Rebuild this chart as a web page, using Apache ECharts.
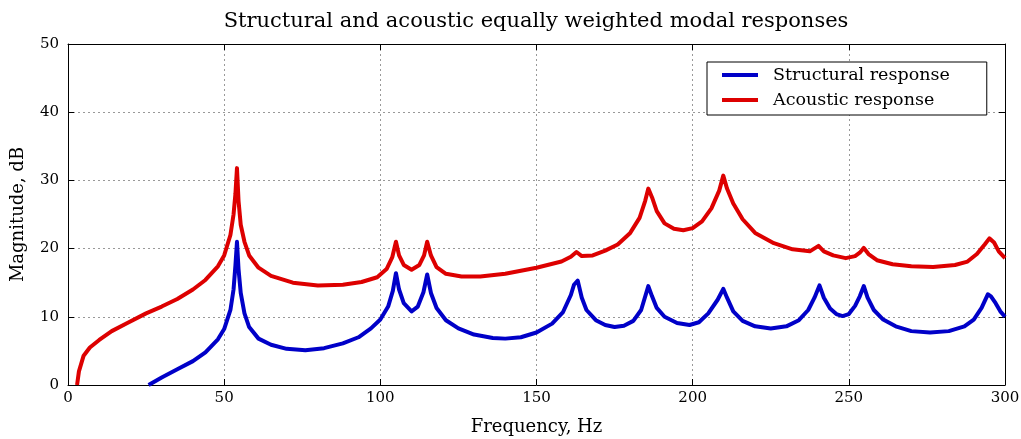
<!DOCTYPE html>
<html>
<head>
<meta charset="utf-8">
<script src="https://cdn.jsdelivr.net/npm/echarts@6/dist/echarts.min.js"></script>
<style>html,body{margin:0;padding:0;background:#fff}#c{width:1021px;height:439px}</style>
</head>
<body>
<div id="c"></div>
<script>
const titleText = 'Structural and acoustic equally weighted modal responses';
const xName = 'Frequency, Hz';
const yName = 'Magnitude, dB';
const seriesNames = ['Structural response', 'Acoustic response'];

const structFreq = [25.8,30,35,40,44,48,50,52,53,53.6,54.1,54.6,55.3,56.5,58,61,65,70,76,82,88,93,97,100,102.5,104,105,106,107.5,110,112,113.8,115,116.2,118,121,125,130,136,140,145,150,155,158.5,161,162,162.5,163.2,164.5,166,169,172,175,178,181,183.5,185.8,187,188.5,191,195,199,202,205,208,209.8,211,213,216,220,225,230,234,237,239,240.6,242,244,246,248,250,252,253.5,254.8,256,258,261,265,270,276,282,287,290,292.5,294.5,295.5,297,298.5,300];
const structMag = [0,1.1,2.3,3.5,4.8,6.7,8.2,11,14,17.5,21,17,13.5,10.5,8.5,6.8,5.9,5.3,5.1,5.4,6.1,7,8.3,9.6,11.5,13.8,16.4,14,12,10.8,11.5,13.6,16.2,13.5,11.3,9.5,8.3,7.4,6.9,6.8,7,7.7,9,10.7,13.2,14.7,14.6,15.3,12.8,11,9.5,8.8,8.5,8.7,9.4,11,14.5,13,11.3,10,9.1,8.8,9.2,10.5,12.5,14.1,12.8,10.8,9.4,8.6,8.3,8.6,9.5,11,12.8,14.6,12.8,11.2,10.4,10.1,10.4,11.6,13,14.5,12.8,11,9.6,8.6,7.9,7.7,7.9,8.6,9.6,11.3,13.3,13,12,10.8,10];

const acousticFreq = [2.9,3.5,5,7,10,14,19,25,30,35,40,44,48,50,52,53,53.6,54.1,54.6,55.3,56.5,58,61,65,72,80,88,94,99,102,103.8,105,106,107.5,110,112.5,114,115,116.2,118,121,126,132,140,150,158,161,162.8,164.5,168,172,176,180,183,184.8,185.8,187,188.5,191,194,197,200,203,206,208.5,209.8,211,213,216,220,226,232,237.5,240.3,242,245,249,252,253.5,254.8,256.3,259,264,270,277,284,288,291,293.5,295,296.5,298,300];
const acousticMag = [0,2,4.3,5.5,6.6,7.9,9.1,10.5,11.5,12.6,14,15.4,17.4,19,22,25,28,31.8,27,23.5,21,19,17.2,16,15,14.6,14.7,15.1,15.8,17,18.7,21,19,17.6,16.9,17.6,19,21,19,17.3,16.3,15.9,15.9,16.3,17.2,18.1,18.8,19.5,18.9,19,19.7,20.6,22.3,24.5,27,28.8,27.5,25.5,23.7,22.9,22.7,23,24,25.9,28.5,30.7,28.8,26.6,24.3,22.3,20.8,19.9,19.6,20.4,19.6,19,18.6,18.9,19.4,20.1,19.2,18.3,17.7,17.4,17.3,17.6,18.1,19.2,20.6,21.5,20.9,19.6,18.6];

const xTicks = {min: 0, max: 300, interval: 50};
const yTicks = {min: 0, max: 50, interval: 10};

const font = 'DejaVu Serif';
const zip = (a, b) => a.map((v, i) => [v, b[i]]);

const chart = echarts.init(document.getElementById('c'), null, {renderer: 'canvas'});
const axisCommon = {
  axisLine: {show: true, onZero: false, lineStyle: {color: '#000', width: 1}},
  axisTick: {show: true, inside: true, length: 6, lineStyle: {color: '#000', width: 1}},
};
chart.setOption({
  animation: false,
  backgroundColor: '#fff',
  title: {text: titleText, left: 531, top: 6, textAlign: 'center',
    textStyle: {fontFamily: font, fontSize: 21, fontWeight: 'normal', color: '#000'}},
  grid: {left: 68, right: 16, top: 44, bottom: 54, containLabel: false, outerBoundsMode: 'none'},
  legend: {
    left: 707, top: 62, orient: 'vertical', icon: 'rect', itemWidth: 36, itemHeight: 4,
    itemGap: 7, padding: [4, 37, 6, 15],
    borderColor: '#000', borderWidth: 1, backgroundColor: '#fff',
    textStyle: {fontFamily: font, fontSize: 17.5, color: '#000', lineHeight: 18, padding: [0, 0, 0, 10]},
    data: seriesNames
  },
  xAxis: [
    Object.assign({type: 'value', min: xTicks.min, max: xTicks.max, interval: xTicks.interval,
      name: xName, nameLocation: 'middle', nameGap: 33,
      nameTextStyle: {fontFamily: font, fontSize: 18, color: '#000'},
      axisLabel: {fontFamily: font, fontSize: 15, color: '#000', margin: 6},
      splitLine: {show: true, lineStyle: {color: '#999', type: [2, 3], width: 1}}}, axisCommon),
    Object.assign({type: 'value', position: 'top', min: xTicks.min, max: xTicks.max, interval: xTicks.interval,
      axisLabel: {show: false}, splitLine: {show: false}}, axisCommon)
  ],
  yAxis: [
    Object.assign({type: 'value', min: yTicks.min, max: yTicks.max, interval: yTicks.interval,
      name: yName, nameLocation: 'middle', nameGap: 41,
      nameTextStyle: {fontFamily: font, fontSize: 18, color: '#000'},
      axisLabel: {fontFamily: font, fontSize: 15, color: '#000', margin: 9},
      splitLine: {show: true, lineStyle: {color: '#999', type: [2, 3], width: 1}}}, axisCommon),
    Object.assign({type: 'value', position: 'right', min: yTicks.min, max: yTicks.max, interval: yTicks.interval,
      axisLabel: {show: false}, splitLine: {show: false}}, axisCommon)
  ],
  series: [
    {name: seriesNames[0], type: 'line', data: zip(structFreq, structMag), showSymbol: false, symbol: 'none',
      lineStyle: {color: '#0000c8', width: 4, join: 'round'}, itemStyle: {color: '#0000c8'}, clip: true},
    {name: seriesNames[1], type: 'line', data: zip(acousticFreq, acousticMag), showSymbol: false, symbol: 'none',
      lineStyle: {color: '#dd0000', width: 4, join: 'round'}, itemStyle: {color: '#dd0000'}, clip: true}
  ]
});
</script>
</body>
</html>
